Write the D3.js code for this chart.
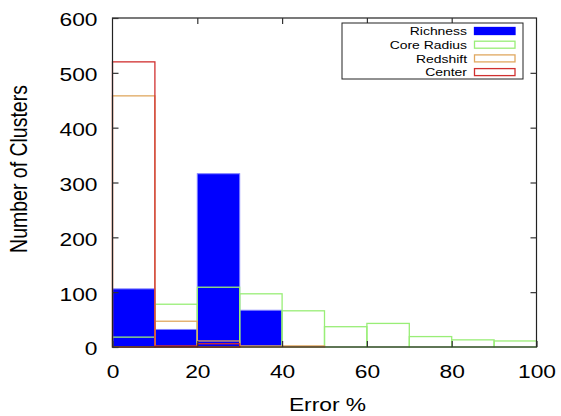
<!DOCTYPE html>
<html><head><meta charset="utf-8">
<script src="https://cdn.jsdelivr.net/npm/d3@7"></script>
<style>body{margin:0;background:#fff;}svg{display:block;}</style>
</head><body>
<script>
const binStarts = [0,10,20,30,40,50,60,70,80,90];
const binWidth = 10;
const richness   = [106, 32, 316, 67, 0, 0, 0, 0, 0, 0];
const coreRadius = [18, 78, 109, 97, 66, 37, 43, 19, 13, 11];
const redshift   = [458, 47, 11, 2, 2, 0, 0, 0, 0, 0];
const center     = [520, 2, 6, 0, 0, 0, 0, 0, 0, 0];
const seriesNames = ["Richness","Core Radius","Redshift","Center"];
const xTicks = [0,20,40,60,80,100];
const yTicks = [0,100,200,300,400,500,600];

const W = 561, H = 416;
const m = {l:112.5, r:536.5, t:18, b:347};
const SX = 1.2;
const svg = d3.select("body").append("svg").attr("width",W).attr("height",H);
const x = d3.scaleLinear().domain([0,100]).range([m.l,m.r]);
const y = d3.scaleLinear().domain([0,600]).range([m.b,m.t]);
const font = "'Liberation Sans', Arial, Helvetica, sans-serif";

const styles = [
  {fill:"#0000ff", stroke:"#8080ff", sw:1},
  {fill:"none", stroke:"#99ee77", sw:1.3},
  {fill:"none", stroke:"#e0a860", sw:1.3},
  {fill:"none", stroke:"#d03030", sw:1.3}
];
const series = [richness, coreRadius, redshift, center];

series.forEach((vals,si)=>{
  const st = styles[si];
  svg.append("g").selectAll("rect").data(binStarts.map((b,i)=>({b,v:vals[i]})).filter(d=>d.v>0))
    .join("rect")
    .attr("x",d=>x(d.b)).attr("width",d=>x(d.b+binWidth)-x(d.b))
    .attr("y",d=>y(d.v)).attr("height",d=>y(0)-y(d.v))
    .attr("fill",st.fill).attr("stroke",st.stroke).attr("stroke-width",st.sw);
});

// frame
svg.append("rect").attr("x",m.l).attr("y",m.t).attr("width",m.r-m.l).attr("height",m.b-m.t)
  .attr("fill","none").attr("stroke","#222").attr("stroke-width",1.2);

// axes (ticks only; labels below)
const ax = d3.axisBottom(x).tickValues(xTicks).tickSize(-6).tickFormat(d3.format("d"));
const gx = svg.append("g").attr("transform",`translate(0,${m.b})`).call(ax);
const axT = d3.axisTop(x).tickValues(xTicks.slice(1,-1)).tickSize(-6).tickFormat("");
const gxt = svg.append("g").attr("transform",`translate(0,${m.t})`).call(axT);
const ay = d3.axisLeft(y).tickValues(yTicks).tickSize(-6).tickFormat(d3.format("d"));
const gy = svg.append("g").attr("transform",`translate(${m.l},0)`).call(ay);
const ayR = d3.axisRight(y).tickValues(yTicks.slice(1,-1)).tickSize(-6).tickFormat("");
const gyr = svg.append("g").attr("transform",`translate(${m.r},0)`).call(ayR);
[gx,gxt,gy,gyr].forEach(g=>{
  g.select(".domain").remove();
  g.selectAll("line").attr("stroke","#333").attr("stroke-width",1.2);
  g.selectAll("text").attr("font-family",font).attr("font-size",19).attr("fill","#000");
});
gx.selectAll("text").attr("y",0).attr("dy",null)
  .attr("transform",`translate(0,31) scale(${SX},1)`);
gy.selectAll("text").attr("x",0).attr("dy","0.36em")
  .attr("transform",`translate(-15,1) scale(${SX},1)`);

svg.append("text").attr("transform",`translate(${(m.l+m.r)/2+3},411) scale(${SX},1)`).attr("text-anchor","middle")
  .attr("font-family",font).attr("font-size",19).attr("fill","#000").text("Error %");
svg.append("text").attr("transform",`translate(27,169) scale(${SX},1) rotate(-90)`).attr("text-anchor","middle")
  .attr("font-family",font).attr("font-size",19.5).attr("fill","#000").text("Number of Clusters");

// legend
const lg = svg.append("g");
lg.append("rect").attr("x",342).attr("y",23).attr("width",181).attr("height",56)
  .attr("fill","#fff").attr("stroke","#222").attr("stroke-width",1);
seriesNames.forEach((n,i)=>{
  const cy = 31 + i*13.7;
  lg.append("text").attr("transform",`translate(467,${cy}) scale(${SX},1)`).attr("dy","0.36em").attr("text-anchor","end")
    .attr("font-family",font).attr("font-size",11.6).attr("fill","#000").text(n);
  const st = styles[i];
  lg.append("rect").attr("x",474.5).attr("y",cy-3.5).attr("width",40.5).attr("height",7)
    .attr("fill", i===0? "#0000ff":"none").attr("stroke", i===0? "#0000ff": st.stroke).attr("stroke-width",1.3);
});
</script>
</body></html>
